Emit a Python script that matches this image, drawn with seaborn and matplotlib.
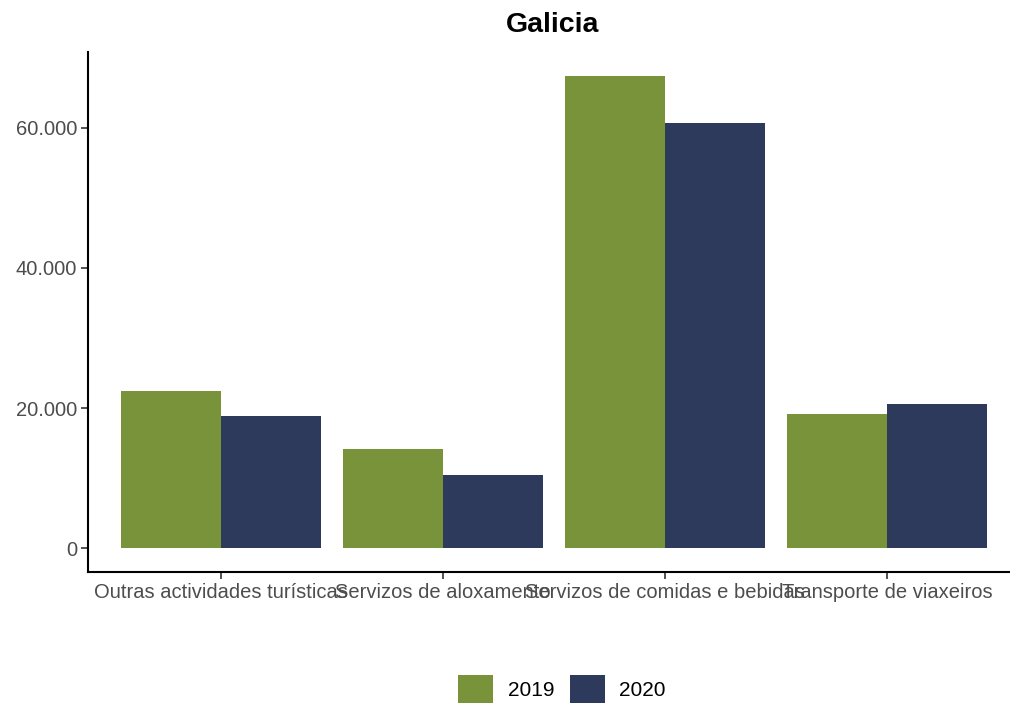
import pandas as pd
import seaborn as sns
import matplotlib.pyplot as plt
from matplotlib.patches import Patch
from matplotlib.ticker import FuncFormatter

# datos
categorias = ["Outras actividades turísticas", "Servizos de aloxamento",
              "Servizos de comidas e bebidas", "Transporte de viaxeiros"]
anos = ["2019", "2020"]
valores_2019 = [22500, 14200, 67400, 19100]
valores_2020 = [18900, 10500, 60600, 20600]
cores = {"2019": "#78933A", "2020": "#2D3A5C"}

df = pd.DataFrame({
    "categoria": categorias * 2,
    "ano": ["2019"] * 4 + ["2020"] * 4,
    "valor": valores_2019 + valores_2020,
})

sns.set_theme(style="white")
plt.rcParams["font.family"] = ["Liberation Sans", "DejaVu Sans"]

W, H = 1010, 706
fig = plt.figure(figsize=(W / 100, H / 100), dpi=100)
ax = fig.add_axes([88 / W, (H - 572) / H, 932 / W, (572 - 52) / H])

sns.barplot(data=df, x="categoria", y="valor", hue="ano", order=categorias,
            hue_order=anos, palette=cores, width=0.9, saturation=1,
            edgecolor="none", linewidth=0, legend=False, ax=ax)

ax.set_xlim(-0.6, 3.6)
ax.set_ylim(-3370, 70770)
ax.set_yticks([0, 20000, 40000, 60000])
ax.yaxis.set_major_formatter(FuncFormatter(lambda v, p: f"{int(v):,}".replace(",", ".")))
ax.set_xlabel("")
ax.set_ylabel("")
for s in ["top", "right"]:
    ax.spines[s].set_visible(False)
for s in ["left", "bottom"]:
    ax.spines[s].set_color("black")
    ax.spines[s].set_linewidth(1.5)
ax.tick_params(axis="both", length=5, width=1.2, color="#333333", labelsize=14.5,
               labelcolor="#4D4D4D", left=True, bottom=True, pad=3)

fig.text(553 / W, 1 - 25 / H, "Galicia", ha="center", va="center",
         fontsize=20.5, fontweight="bold", color="black")

handles = [Patch(facecolor=cores[a], edgecolor="none", label=a) for a in anos]
fig.legend(handles=handles, loc="center", bbox_to_anchor=(562 / W, 1 - 689 / H),
           ncol=2, frameon=False, fontsize=15, labelcolor="black",
           handlelength=1.68, handleheight=1.65,
           handletextpad=0.72, columnspacing=0.72)

plt.savefig("out.png", dpi=100)
